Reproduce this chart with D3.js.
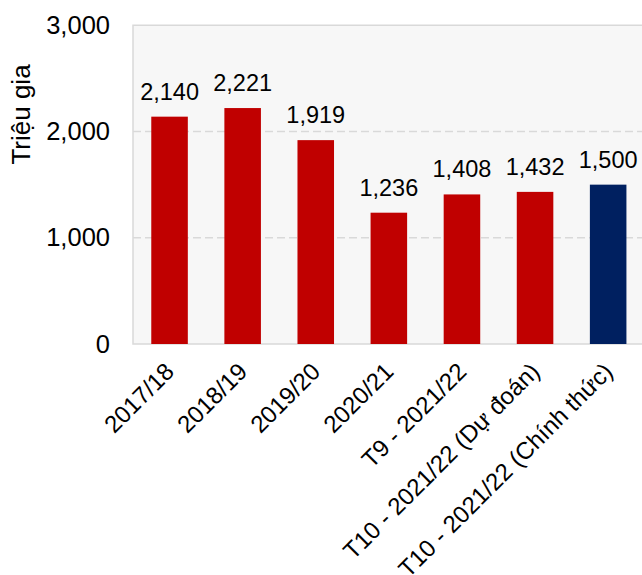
<!DOCTYPE html>
<html>
<head>
<meta charset="utf-8">
<script src="https://cdn.jsdelivr.net/npm/d3@7/dist/d3.min.js"></script>
<style>
  html, body { margin: 0; padding: 0; background: #ffffff; }
  svg { display: block; font-family: "Liberation Sans", Arial, sans-serif; }
</style>
</head>
<body>
<svg id="chart" width="642" height="575"></svg>
<script>
// Rice stocks by season (million units)
const categories = [
  "2017/18", "2018/19", "2019/20", "2020/21",
  "T9 - 2021/22", "T10 - 2021/22 (Dự đoán)", "T10 - 2021/22 (Chính thức)"
];
const values = [2140, 2221, 1919, 1236, 1408, 1432, 1500];
const barColors = ["#c00000", "#c00000", "#c00000", "#c00000", "#c00000", "#c00000", "#002060"];
const yTicks = [0, 1000, 2000, 3000];
const yTitle = "Triệu gia";

const svg = d3.select("#chart");
const plot = { left: 133, right: 644.7, top: 25.3, bottom: 344 };

const x = d3.scaleBand()
  .domain(categories)
  .range([plot.left, plot.right])
  .paddingInner(0.5)
  .paddingOuter(0.25);

const y = d3.scaleLinear()
  .domain([0, 3000])
  .range([plot.bottom, plot.top]);

const fmt = d3.format(",");

// plot background
svg.append("rect")
  .attr("x", plot.left).attr("y", plot.top)
  .attr("width", plot.right - plot.left).attr("height", plot.bottom - plot.top)
  .attr("fill", "#f7f7f7");

// dashed gridlines
svg.append("g")
  .selectAll("line")
  .data(yTicks.filter(t => t > 0 && t < 3000))
  .join("line")
  .attr("x1", plot.left).attr("x2", plot.right)
  .attr("y1", d => y(d)).attr("y2", d => y(d))
  .attr("stroke", "#d9d9d9")
  .attr("stroke-width", 1.5)
  .attr("stroke-dasharray", "8,4");

// plot border (left, top, bottom)
svg.append("path")
  .attr("d", `M${plot.right},${plot.top}H${plot.left}V${plot.bottom}H${plot.right}`)
  .attr("fill", "none")
  .attr("stroke", "#d9d9d9")
  .attr("stroke-width", 1.5);

// bars
svg.append("g")
  .selectAll("rect")
  .data(values)
  .join("rect")
  .attr("x", (d, i) => x(categories[i]))
  .attr("y", d => y(d))
  .attr("width", x.bandwidth())
  .attr("height", d => y(0) - y(d))
  .attr("fill", (d, i) => barColors[i]);

// value labels
svg.append("g")
  .selectAll("text")
  .data(values)
  .join("text")
  .attr("x", (d, i) => x(categories[i]) + x.bandwidth() / 2)
  .attr("y", d => y(d) - 17)
  .attr("text-anchor", "middle")
  .attr("font-size", 23.5)
  .attr("fill", "#000")
  .text(d => fmt(d));

// y-axis tick labels
const yAxis = d3.axisLeft(y)
  .tickValues(yTicks)
  .tickFormat(fmt)
  .tickSize(0)
  .tickPadding(23);
const gy = svg.append("g")
  .attr("transform", `translate(${plot.left},0)`)
  .call(yAxis);
gy.select(".domain").remove();
gy.selectAll("text")
  .attr("font-size", 25.5)
  .attr("font-family", "\"Liberation Sans\", Arial, sans-serif")
  .attr("fill", "#000");

// x-axis category labels, rotated
const xAxis = d3.axisBottom(x).tickSize(0).tickPadding(0);
const gx = svg.append("g")
  .attr("transform", `translate(0,${plot.bottom})`)
  .call(xAxis);
gx.select(".domain").remove();
gx.selectAll("text")
  .attr("font-size", 24)
  .attr("font-family", "\"Liberation Sans\", Arial, sans-serif")
  .attr("fill", "#000")
  .attr("text-anchor", "end")
  .attr("dy", null)
  .attr("y", 0)
  .attr("transform", "translate(6,29) rotate(-45)");

// y-axis title
svg.append("text")
  .attr("transform", `translate(29.5,114.5) rotate(-90)`)
  .attr("text-anchor", "middle")
  .attr("font-size", 26)
  .attr("fill", "#000")
  .text(yTitle);
</script>
</body>
</html>
